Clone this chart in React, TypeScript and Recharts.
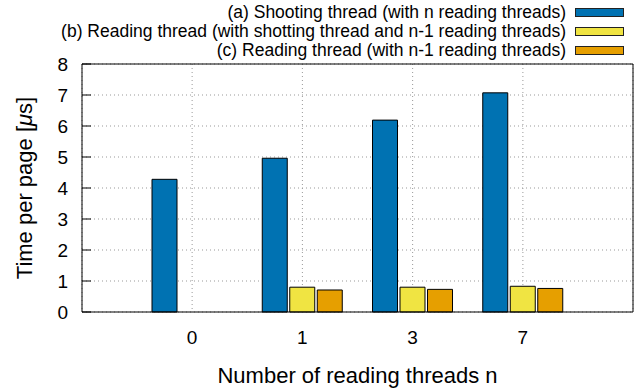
import React from "react";
import { BarChart, Bar, XAxis, YAxis, CartesianGrid, ReferenceLine } from "recharts";

const categories = ["0", "1", "3", "7"];
const shootingTimes = [4.28, 4.96, 6.19, 7.07];
const readingWithShooting = [null, 0.8, 0.8, 0.83];
const readingOnly = [null, 0.71, 0.73, 0.76];
const yTicks = [0, 1, 2, 3, 4, 5, 6, 7, 8];

const seriesNames = [
  "(a) Shooting thread (with n reading threads)",
  "(b) Reading thread (with shotting thread and n-1 reading threads)",
  "(c) Reading thread (with n-1 reading threads)",
];
const seriesColors = ["#0072b2", "#f0e442", "#e69f00"];
const seriesKeys = ["a", "b", "c"];

const FONT = "'Liberation Sans', Arial, sans-serif";

const data = categories.map((n, i) => ({
  n,
  a: shootingTimes[i],
  b: readingWithShooting[i],
  c: readingOnly[i],
}));

// libelle + petit trait vers l'interieur
function LeftTick(props: any) {
  const { x, y, payload } = props;
  return (
    <g>
      <line x1={x + 14} x2={x + 23} y1={y} y2={y} stroke="#000" />
      <text x={x} y={y} dy="0.36em" textAnchor="end" fontSize={19} fontFamily={FONT} fill="#000">
        {payload.value}
      </text>
    </g>
  );
}

function RightTick(props: any) {
  const { x, y } = props;
  return <line x1={x - 9} x2={x} y1={y} y2={y} stroke="#000" />;
}

function YLabel(props: any) {
  const vb = props.viewBox;
  const cx = 24;
  const cy = vb.y + vb.height / 2;
  return (
    <text
      x={cx}
      y={cy}
      transform={`rotate(-90 ${cx} ${cy})`}
      textAnchor="middle"
      dy="0.36em"
      fontSize={22}
      fontFamily={FONT}
      fill="#000"
    >
      Time per page [<tspan fontStyle="italic">μ</tspan>s]
    </text>
  );
}

function XLabel(props: any) {
  const vb = props.viewBox;
  return (
    <text
      x={vb.x + vb.width / 2}
      y={375}
      dy="0.36em"
      textAnchor="middle"
      fontSize={22}
      fontFamily={FONT}
      fill="#000"
    >
      Number of reading threads n
    </text>
  );
}

function KeyBox() {
  return (
    <div style={{ position: "absolute", left: 0, top: 3, width: 637, fontFamily: FONT, fontSize: 17.5 }}>
      {seriesNames.map((name, i) => (
        <div key={name} style={{ display: "flex", justifyContent: "flex-end", alignItems: "center", height: 19, paddingRight: 13 }}>
          <span style={{ whiteSpace: "nowrap", lineHeight: "19px" }}>{name}</span>
          <span
            style={{
              display: "inline-block",
              width: 47,
              height: 7,
              marginLeft: 9,
              background: seriesColors[i],
              border: "1px solid #222",
            }}
          />
        </div>
      ))}
    </div>
  );
}

export default function App() {
  return (
    <div style={{ position: "absolute", left: 0, top: 0, width: 637, height: 389, background: "#fff" }}>
      <BarChart
        width={637}
        height={389}
        data={data}
        margin={{ top: 64, right: 0, left: 0, bottom: 0 }}
        barSize={25}
        barGap={2.5}
      >
        <CartesianGrid stroke="#999" strokeDasharray="1 3" />
        <XAxis
          dataKey="n"
          padding={{ left: 55, right: 55 }}
          height={77}
          tickLine={false}
          tickSize={0}
          tickMargin={19}
          axisLine={{ stroke: "#000" }}
          tick={{ fontSize: 19, fontFamily: FONT, fill: "#000" }}
          label={<XLabel />}
        />
        <YAxis
          width={82}
          domain={[0, 8]}
          ticks={yTicks}
          interval={0}
          tickSize={0}
          tickMargin={14}
          tickLine={false}
          axisLine={{ stroke: "#000" }}
          tick={<LeftTick />}
          label={<YLabel />}
        />
        <YAxis
          yAxisId="right"
          orientation="right"
          width={4}
          domain={[0, 8]}
          ticks={yTicks}
          interval={0}
          tickSize={0}
          tickMargin={0}
          tickLine={false}
          axisLine={{ stroke: "#000" }}
          tick={<RightTick />}
        />
        <ReferenceLine y={8} stroke="#000" />
        {seriesKeys.map((k, i) => (
          <Bar key={k} dataKey={k} name={seriesNames[i]} fill={seriesColors[i]} stroke="#000" strokeWidth={1} isAnimationActive={false} />
        ))}
      </BarChart>
      <KeyBox />
    </div>
  );
}
